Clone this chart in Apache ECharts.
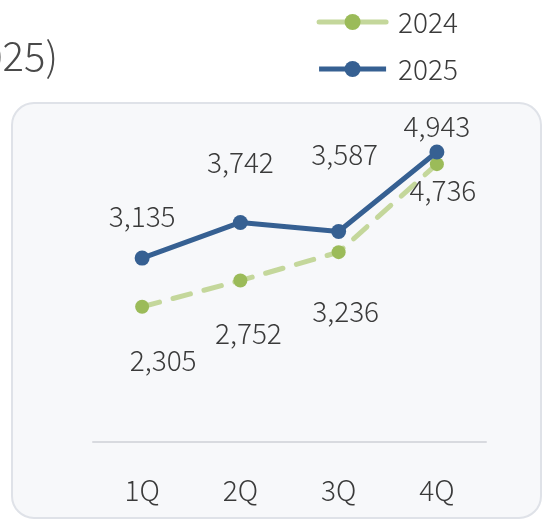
<!DOCTYPE html>
<html>
<head>
<meta charset="utf-8">
<script src="https://cdn.jsdelivr.net/npm/echarts@6/dist/echarts.min.js"></script>
<style>html,body{margin:0;padding:0;background:#fff;}#c{width:545px;height:520px;}</style>
</head>
<body>
<div id="c"></div>
<script>
const categories = ['1Q', '2Q', '3Q', '4Q'];
const values2024 = [2305, 2752, 3236, 4736];
const values2025 = [3135, 3742, 3587, 4943];
const seriesNames = ['2024', '2025'];
const titleText = 'Quarterly Sales (2024-2025)';

const FONT = '"Noto Sans CJK JP", "Noto Sans", sans-serif';
const off2025 = [[0, -20], [0, -39], [6, -56], [0, -4]];
const off2024 = [[21, 33], [8, 32], [7, 38], [6, 5]];

const chart = echarts.init(document.getElementById('c'), null, {renderer: 'canvas'});
chart.setOption({
  animation: false,
  textStyle: {fontFamily: FONT, fontWeight: 300},
  graphic: [
    {type: 'rect', z: -10, shape: {x: 12, y: 103, width: 529, height: 415, r: 22},
     style: {fill: '#f7f8fa', stroke: '#dfe2e8', lineWidth: 2}},
    {type: 'text', x: 58, y: 56, z: 5,
     style: {text: titleText, fontSize: 40, fontFamily: FONT, fontWeight: 300, fill: '#4a4a4a',
             align: 'right', verticalAlign: 'middle'}}
  ],
  legend: {
    orient: 'vertical', right: 82, top: 3, itemWidth: 67, itemHeight: 20, itemGap: 19,
    lineStyle: {type: 'solid', width: 5},
    textStyle: {fontSize: 28, color: '#3a3a3a', fontFamily: FONT, fontWeight: 300, padding: [0, 0, 0, 7]},
    data: seriesNames
  },
  grid: {left: 93, right: 59, top: 90, bottom: 78},
  xAxis: {
    type: 'category', data: categories, boundaryGap: true,
    axisLine: {lineStyle: {color: '#d8dadf', width: 2}},
    axisTick: {show: false},
    axisLabel: {fontSize: 28, color: '#3a3a3a', margin: 34, fontFamily: FONT, fontWeight: 300}
  },
  yAxis: {type: 'value', min: 0, max: 6000, show: false, splitLine: {show: false}},
  series: [
    {
      name: seriesNames[0], type: 'line', data: values2024.map((v, i) => ({
        value: v, label: {offset: off2024[i]}
      })),
      symbol: 'circle', symbolSize: 14,
      itemStyle: {color: '#9bbb59'},
      lineStyle: {color: '#c4d79b', width: 5, type: [18, 14], cap: 'round'},
      label: {show: true, position: 'bottom', distance: 0, fontSize: 28, color: '#3a3a3a',
              fontFamily: FONT, fontWeight: 300,
              formatter: p => p.value.toLocaleString('en-US')},
      z: 2
    },
    {
      name: seriesNames[1], type: 'line', data: values2025.map((v, i) => ({
        value: v, label: {offset: off2025[i]}
      })),
      symbol: 'circle', symbolSize: 15,
      itemStyle: {color: '#366092'},
      lineStyle: {color: '#366092', width: 5},
      label: {show: true, position: 'top', distance: 0, fontSize: 28, color: '#3a3a3a',
              fontFamily: FONT, fontWeight: 300,
              formatter: p => p.value.toLocaleString('en-US')},
      z: 3
    }
  ]
});
</script>
</body>
</html>
